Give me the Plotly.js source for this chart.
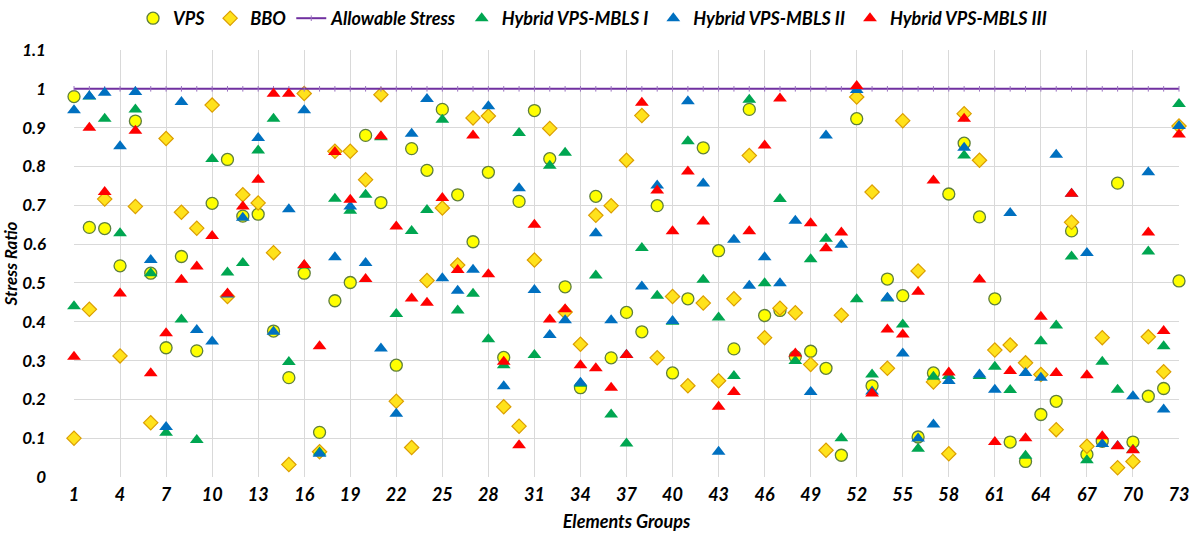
<!DOCTYPE html>
<html>
<head>
<meta charset="utf-8">
<script src="https://cdn.plot.ly/plotly-3.0.1.min.js"></script>
<style>
  html, body { margin: 0; padding: 0; background: #ffffff; }
  #chart { width: 1197px; height: 540px; }
</style>
</head>
<body>
<div id="chart"></div>
<script>
// Element groups 1..73
const groups = [1,2,3,4,5,6,7,8,9,10,11,12,13,14,15,16,17,18,19,20,
  21,22,23,24,25,26,27,28,29,30,31,32,33,34,35,36,37,38,39,40,
  41,42,43,44,45,46,47,48,49,50,51,52,53,54,55,56,57,58,59,60,
  61,62,63,64,65,66,67,68,69,70,71,72,73];

// Stress ratio of each element group per optimiser
const vps = [0.98,0.643,0.64,0.544,0.917,0.525,0.333,0.568,0.325,0.705,
  0.818,0.672,0.677,0.376,0.256,0.525,0.115,0.454,0.501,0.88,
  0.707,0.288,0.846,0.79,0.947,0.727,0.606,0.785,0.308,0.71,
  0.944,0.82,0.49,0.23,0.723,0.307,0.424,0.374,0.699,0.268,
  0.459,0.848,0.583,0.33,0.947,0.416,0.429,0.31,0.324,0.28,
  0.056,0.923,0.235,0.51,0.467,0.103,0.268,0.729,0.86,0.67,
  0.459,0.09,0.04,0.161,0.195,0.634,0.058,0.092,0.757,0.09,
  0.208,0.228,0.505];

const bbo = [0.1,0.432,0.716,0.312,0.697,0.14,0.872,0.682,0.641,0.958,
  0.465,0.727,0.706,0.578,0.032,0.988,0.065,0.839,0.839,0.766,
  0.985,0.195,0.076,0.506,0.693,0.546,0.925,0.93,0.181,0.131,
  0.559,0.898,0.425,0.342,0.674,0.699,0.816,0.931,0.307,0.465,
  0.235,0.448,0.248,0.459,0.828,0.359,0.435,0.423,0.29,0.069,
  0.417,0.979,0.734,0.28,0.918,0.531,0.245,0.06,0.936,0.816,
  0.327,0.34,0.294,0.264,0.122,0.656,0.079,0.359,0.024,0.04,
  0.361,0.271,0.904];

const allowableStress = [1,1,1,1,1,1,1,1,1,1,1,1,1,1,1,1,1,1,1,1,
  1,1,1,1,1,1,1,1,1,1,1,1,1,1,1,1,1,1,1,1,
  1,1,1,1,1,1,1,1,1,1,1,1,1,1,1,1,1,1,1,1,
  1,1,1,1,1,1,1,1,1,1,1,1,1];

const hybridI = [0.44,0.98,0.923,0.628,0.947,0.525,0.114,0.406,0.095,0.819,
  0.527,0.551,0.841,0.923,0.296,0.545,0.063,0.717,0.686,0.727,
  0.875,0.42,0.634,0.688,0.92,0.429,0.472,0.355,0.288,0.886,
  0.314,0.802,0.835,0.24,0.519,0.161,0.086,0.59,0.467,0.4,
  0.865,0.508,0.411,0.26,0.972,0.499,0.716,0.299,0.561,0.614,
  0.1,0.458,0.264,0.46,0.393,0.073,0.258,0.26,0.828,0.26,
  0.284,0.224,0.055,0.35,0.39,0.568,0.043,0.297,0.225,0.07,
  0.581,0.337,0.961];

const hybridII = [0.945,0.981,0.99,0.852,0.992,0.559,0.129,0.966,0.379,0.349,
  0.47,0.668,0.873,0.374,0.69,0.945,0.06,0.566,0.697,0.551,
  0.331,0.163,0.884,0.974,0.512,0.48,0.534,0.955,0.234,0.744,
  0.482,0.366,0.404,0.243,0.628,0.404,0.315,0.491,0.751,0.402,
  0.968,0.756,0.065,0.611,0.493,0.566,0.499,0.66,0.219,0.88,
  0.598,0.997,0.22,0.462,0.318,0.099,0.135,0.247,0.848,0.264,
  0.225,0.68,0.268,0.256,0.83,0.73,0.577,0.085,0.08,0.208,
  0.785,0.174,0.904];

const hybridIII = [0.31,0.9,0.734,0.473,0.892,0.267,0.37,0.508,0.542,0.621,
  0.473,0.697,0.766,0.987,0.987,0.546,0.337,0.837,0.714,0.51,
  0.878,0.645,0.46,0.449,0.719,0.533,0.88,0.522,0.297,0.082,
  0.65,0.406,0.432,0.288,0.28,0.23,0.314,0.964,0.738,0.633,
  0.787,0.658,0.181,0.219,0.633,0.854,0.975,0.318,0.654,0.589,
  0.63,1.007,0.215,0.38,0.367,0.477,0.764,0.269,0.923,0.509,
  0.09,0.273,0.1,0.413,0.268,0.73,0.262,0.105,0.079,0.069,
  0.63,0.376,0.882];

const xTicks = [1,4,7,10,13,16,19,22,25,28,31,34,37,40,43,46,49,52,55,58,61,64,67,70,73];
const yTicks = [0,0.1,0.2,0.3,0.4,0.5,0.6,0.7,0.8,0.9,1,1.1];

const FONT = 'Lato, "Liberation Sans", sans-serif';

function scatter(name, y, symbol, size, fill, edge, edgeW) {
  return {
    type: 'scatter', mode: 'markers', name: name, x: groups, y: y,
    cliponaxis: false,
    marker: { symbol: symbol, size: size, color: fill, line: { color: edge, width: edgeW } }
  };
}

const traces = [
  scatter('VPS', vps, 'circle', 12, '#FFFF00', '#5E7F3C', 1.3),
  scatter('BBO', bbo, 'diamond', 11, '#FFE21C', '#DB9E00', 1.2),
  {
    type: 'scatter', mode: 'lines+markers', name: 'Allowable Stress',
    x: groups, y: allowableStress, cliponaxis: false,
    line: { color: '#7030A0', width: 2 },
    marker: { symbol: 'line-ns', size: 4, color: '#7030A0', line: { color: '#9A70C0', width: 1 } }
  },
  scatter('Hybrid VPS-MBLS I', hybridI, 'triangle-up', 12, '#00A651', '#00A651', 0),
  scatter('Hybrid VPS-MBLS II', hybridII, 'triangle-up', 12, '#0070C0', '#0070C0', 0),
  scatter('Hybrid VPS-MBLS III', hybridIII, 'triangle-up', 12, '#FF0000', '#FF0000', 0)
];

const boldItalic = (size) => ({ family: FONT, size: size, weight: 'bold', style: 'italic', color: '#000000' });

const layout = {
  width: 1197, height: 540,
  margin: { l: 74, r: 18, t: 50, b: 63 },
  paper_bgcolor: '#ffffff', plot_bgcolor: '#ffffff',
  font: { family: FONT, color: '#000000' },
  showlegend: true,
  legend: {
    orientation: 'h', x: 0.495, xanchor: 'center', xref: 'container',
    y: 1.0, yanchor: 'top', yref: 'container',
    font: boldItalic(18),
    itemwidth: 30, tracegroupgap: 0
  },
  xaxis: {
    range: [1, 73], tickmode: 'array', tickvals: xTicks, ticktext: xTicks.map(String),
    showgrid: true, gridcolor: '#D9D9D9', gridwidth: 1,
    zeroline: false, showline: false, ticks: '',
    tickfont: boldItalic(18),
    ticklabelstandoff: 5,
    title: { text: 'Elements Groups', standoff: 11, font: boldItalic(18) }
  },
  yaxis: {
    range: [0, 1.1], tickmode: 'array', tickvals: yTicks,
    ticktext: ['0','0.1','0.2','0.3','0.4','0.5','0.6','0.7','0.8','0.9','1','1.1'],
    showgrid: true, gridcolor: '#D9D9D9', gridwidth: 1,
    zeroline: false, showline: false, ticks: '',
    tickfont: boldItalic(17),
    ticklabelstandoff: 27,
    title: { text: 'Stress Ratio', standoff: 2, font: boldItalic(17) }
  }
};

Plotly.newPlot('chart', traces, layout, { displayModeBar: false, staticPlot: true });
</script>
</body>
</html>
